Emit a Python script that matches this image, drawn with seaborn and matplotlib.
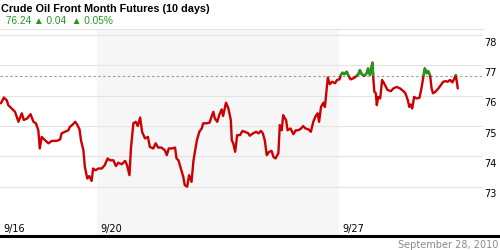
import numpy as np
import pandas as pd
import matplotlib
matplotlib.use("Agg")
import matplotlib.pyplot as plt
import matplotlib.transforms as mtransforms
from matplotlib.patches import Rectangle
from matplotlib.lines import Line2D
import seaborn as sns

# ---- data (trading-day offsets from 9/16, price) ----
days = [0.02, 0.08, 0.14, 0.17, 0.24, 0.31, 0.38, 0.45, 0.49, 0.56, 0.63, 0.69, 0.74, 0.79, 0.82, 0.86,
        0.93, 1.00, 1.07, 1.17, 1.24, 1.27, 1.34, 1.41, 1.44, 1.50, 1.55, 1.59, 1.64, 1.67, 1.72, 1.75,
        1.80, 1.84, 1.89, 1.92, 1.97, 2.03, 2.10, 2.16, 2.22, 2.27, 2.34, 2.39, 2.44, 2.51, 2.58, 2.62,
        2.67, 2.70, 2.75, 2.80, 2.84, 2.89, 2.93, 2.99, 3.05, 3.09, 3.16, 3.21, 3.26, 3.33, 3.40, 3.44,
        3.48, 3.55, 3.61, 3.64, 3.68, 3.73, 3.78, 3.81, 3.86, 3.90, 3.95, 3.99, 4.06, 4.11, 4.16, 4.19,
        4.26, 4.32, 4.36, 4.40, 4.43, 4.48, 4.52, 4.57, 4.60, 4.66, 4.71, 4.76, 4.78, 4.81, 4.85, 4.89,
        4.95, 5.00, 5.05, 5.12, 5.15, 5.22, 5.28, 5.33, 5.38, 5.42, 5.46, 5.50, 5.55, 5.60, 5.64, 5.68,
        5.74, 5.77, 5.81, 5.84, 5.90, 5.93, 5.99, 6.05, 6.10, 6.15, 6.21, 6.25, 6.30, 6.36, 6.41, 6.46,
        6.51, 6.55, 6.58, 6.62, 6.67, 6.70, 6.74, 6.76, 6.80, 6.85, 6.91, 6.95, 7.00, 7.03, 7.06, 7.10,
        7.15, 7.18, 7.23, 7.28, 7.33, 7.39, 7.42, 7.46, 7.51, 7.56, 7.59, 7.63, 7.68, 7.70, 7.72, 7.75,
        7.77, 7.80, 7.84, 7.88, 7.92, 7.99, 8.06, 8.11, 8.18, 8.25, 8.32, 8.36, 8.41, 8.44, 8.47, 8.50,
        8.54, 8.59, 8.65, 8.69, 8.73, 8.76, 8.80, 8.83, 8.87, 8.90, 8.93, 8.98, 9.04, 9.09, 9.14, 9.19,
        9.23, 9.28, 9.33, 9.37, 9.40, 9.44]
price = [75.75, 75.94, 75.85, 75.69, 75.58, 75.47, 75.14, 75.42, 75.20, 75.25, 75.39, 75.14, 75.09, 74.86, 74.26, 74.64,
         74.53, 74.43, 74.51, 74.51, 74.56, 74.76, 74.81, 74.86, 74.97, 75.05, 75.14, 75.05, 74.89, 74.53, 74.20, 73.65,
         73.27, 73.35, 73.19, 73.60, 73.54, 73.60, 73.60, 73.71, 73.93, 73.87, 73.87, 73.68, 73.79, 73.74, 73.85, 73.71,
         73.38, 74.26, 75.09, 75.14, 75.00, 75.28, 74.81, 74.59, 74.64, 74.31, 74.26, 74.43, 74.29, 74.29, 74.20, 74.04,
         74.26, 74.26, 74.29, 73.93, 73.87, 73.60, 73.32, 73.05, 73.00, 73.38, 73.16, 73.87, 74.53, 74.81, 74.92, 75.09,
         75.09, 75.11, 75.30, 75.47, 75.25, 75.14, 75.36, 75.55, 75.33, 75.77, 75.58, 75.19, 74.53, 74.43, 74.15, 74.70,
         74.70, 74.84, 74.81, 74.76, 74.68, 74.76, 74.81, 74.76, 74.84, 74.76, 74.53, 74.04, 74.15, 74.18, 73.98, 73.93,
         74.10, 75.03, 74.86, 75.36, 75.19, 74.86, 74.92, 74.73, 74.86, 74.86, 74.92, 75.00, 74.92, 74.89, 74.81, 75.14,
         75.33, 75.42, 75.14, 75.63, 75.77, 75.63, 76.29, 76.60, 76.38, 76.46, 76.41, 76.52, 76.54, 76.68, 76.76, 76.71,
         76.79, 76.68, 76.54, 76.57, 76.62, 76.71, 76.84, 76.71, 76.65, 76.74, 76.90, 76.68, 77.09, 76.52, 76.13, 76.08,
         75.69, 75.96, 75.91, 76.52, 76.41, 76.19, 76.15, 76.24, 76.29, 76.24, 76.15, 76.08, 75.85, 75.63, 75.71, 75.58,
         75.96, 75.91, 75.93, 76.24, 76.62, 76.90, 76.74, 76.81, 76.66, 76.24, 76.08, 76.13, 76.24, 76.35, 76.46, 76.48,
         76.46, 76.52, 76.44, 76.57, 76.68, 76.24]
reference_level = 76.66
shaded_week = (2, 7)
tick_days = [0, 2, 7]
tick_labels = ["9/16", "9/20", "9/27"]
y_ticks = [72, 73, 74, 75, 76, 77, 78]
title = "Crude Oil Front Month Futures (10 days)"
quote = "76.24 \u25b2 0.04  \u25b2 0.05%"
date_label = "September 28, 2010"

df = pd.DataFrame({"day": days, "price": price})

sns.set_style("white")
plt.rcParams["font.family"] = ["DejaVu Sans"]

W, H = 500, 250
fig = plt.figure(figsize=(5, 2.5), dpi=100)
ax = fig.add_axes([0, (H - 217) / H, 483 / W, (217 - 29) / H])
ax.set_xlim(0, 9.96)
ax.set_ylim(72, 78.2)

# shaded week (also through the label band)
ax.axvspan(*shaded_week, color="#f6f6f6", zorder=0, lw=0)
band = Rectangle((shaded_week[0], -18 / 188), shaded_week[1] - shaded_week[0], 18 / 188,
                 transform=ax.get_xaxis_transform(), color="#f6f6f6", lw=0, clip_on=False, zorder=0)
ax.add_patch(band)

# grid
for yv in y_ticks:
    ax.axhline(yv, color="#e4e4e4", lw=0.8, zorder=1)
ax.axhline(reference_level, color="#9a9a9a", lw=0.8, ls=(0, (2.2, 2.2)), zorder=2)

# lines: red full, green clipped above reference
sns.lineplot(data=df, x="day", y="price", ax=ax, color="#cc0000", lw=1.7, estimator=None, sort=False, zorder=3)
sns.lineplot(data=df, x="day", y="price", ax=ax, color="#1f9a1f", lw=1.7, estimator=None, sort=False, zorder=4)
clip = Rectangle((0, reference_level), 20, 10, transform=ax.transData)
ax.lines[-1].set_clip_path(clip)

ax.set_xlabel("")
ax.set_ylabel("")
for s in ["left", "right", "bottom"]:
    ax.spines[s].set_visible(False)
ax.spines["top"].set_color("#e4e4e4")
ax.spines["top"].set_linewidth(0.8)

# y ticks on the right, text just below the gridline
ax.yaxis.tick_right()
ax.set_yticks(y_ticks[1:])
ax.set_yticklabels([str(v) for v in y_ticks[1:]])
ax.tick_params(axis="y", length=0, pad=1, labelsize=7, labelcolor="black")
off_y = mtransforms.ScaledTranslation(0, -2 / 72, fig.dpi_scale_trans)
for lab in ax.get_yticklabels():
    lab.set_va("top")
    lab.set_transform(lab.get_transform() + off_y)

# x ticks
ax.set_xticks(tick_days)
ax.set_xticklabels(tick_labels)
ax.tick_params(axis="x", length=0, pad=5, labelsize=7, labelcolor="black")
off_x = mtransforms.ScaledTranslation(3 / 100, 0, fig.dpi_scale_trans)
for lab in ax.get_xticklabels():
    lab.set_ha("left")
    lab.set_transform(lab.get_transform() + off_x)

# bottom black rule
fig.add_artist(Line2D([0, 1], [(H - 236) / H] * 2, transform=fig.transFigure, color="black", lw=2.2))
fig.text(498 / W, (H - 245) / H, date_label, ha="right", va="center", fontsize=7, color="#8a8a8a")

# header
fig.text(1 / W, (H - 9) / H, title, ha="left", va="center", fontsize=7.8, fontweight="bold",
         family=["Liberation Sans", "DejaVu Sans"], color="black")
fig.text(6 / W, (H - 21) / H, quote, ha="left", va="center", fontsize=7.2,
         family=["Liberation Sans", "DejaVu Sans"], color="#1f9a1f")

fig.savefig("out.png", dpi=100)
